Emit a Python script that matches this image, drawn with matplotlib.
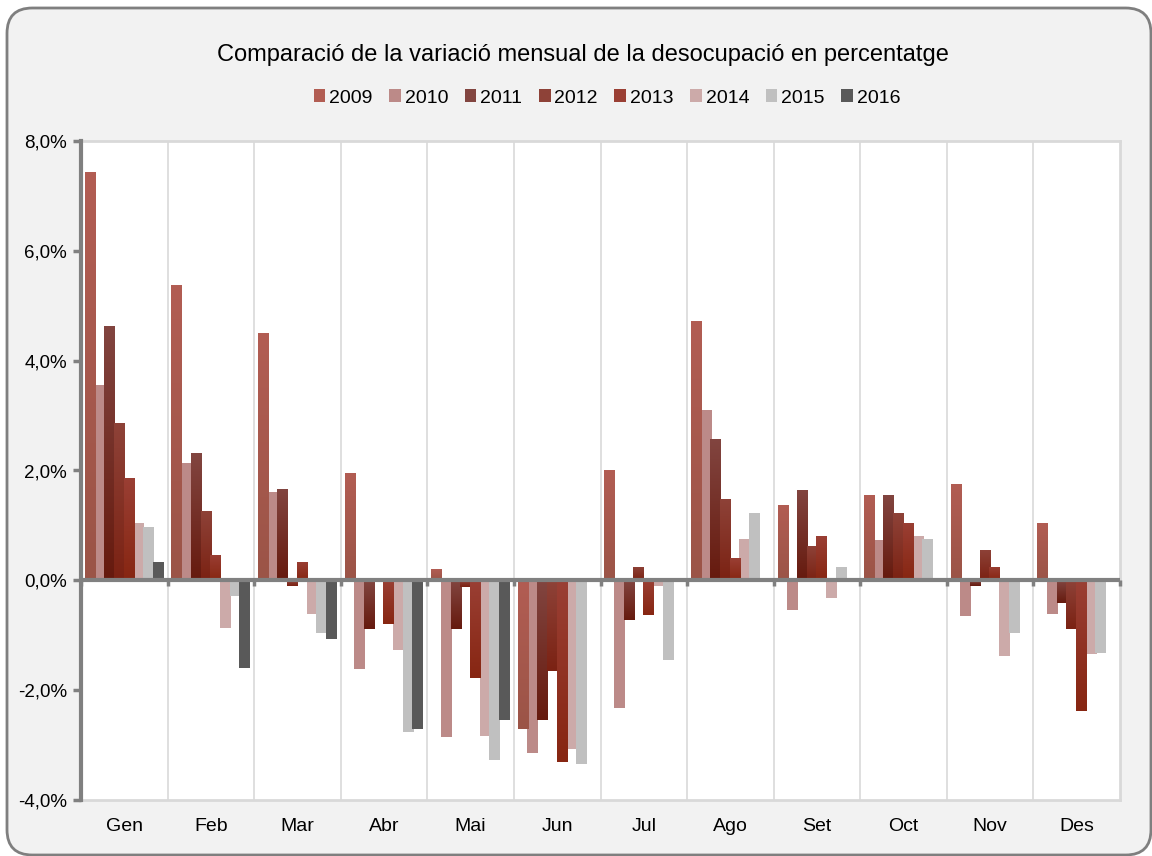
import numpy as np
import matplotlib.pyplot as plt
from matplotlib.colors import to_rgb
from matplotlib.patches import FancyBboxPatch, Patch
from matplotlib.ticker import FuncFormatter

plt.rcParams['font.family'] = ['Liberation Sans', 'DejaVu Sans']

# ------------------------------------------------------------------
# DATA (monthly variation of unemployment, %)
# ------------------------------------------------------------------
months = ["Gen", "Feb", "Mar", "Abr", "Mai", "Jun", "Jul", "Ago", "Set", "Oct", "Nov", "Des"]
years = ["2009", "2010", "2011", "2012", "2013", "2014", "2015", "2016"]

v2009 = [7.44, 5.38, 4.51, 1.95, 0.20, -2.70, 2.00, 4.73, 1.38, 1.56, 1.75, 1.04]
v2010 = [3.55, 2.13, 1.60, -1.61, -2.85, -3.14, -2.32, 3.11, -0.54, 0.73, -0.65, -0.61]
v2011 = [4.64, 2.31, 1.67, -0.88, -0.88, -2.54, -0.72, 2.58, 1.65, 1.55, -0.10, -0.41]
v2012 = [2.87, 1.27, -0.10, 0.05, -0.12, -1.65, 0.24, 1.49, 0.62, 1.22, 0.55, -0.88]
v2013 = [1.87, 0.47, 0.33, -0.79, -1.78, -3.30, -0.63, 0.40, 0.80, 1.05, 0.24, -2.38]
v2014 = [1.04, -0.87, -0.61, -1.27, -2.83, -3.08, -0.10, 0.75, -0.32, 0.80, -1.38, -1.34]
v2015 = [0.98, -0.28, -0.96, -2.76, -3.27, -3.35, -1.45, 1.23, 0.24, 0.76, -0.96, -1.33]
v2016 = [0.33, -1.60, -1.06, -2.70, -2.55]

series = [v2009, v2010, v2011, v2012, v2013, v2014, v2015, v2016]

# (top colour, bottom colour) — Excel-style vertical gradient per bar
colors = [
    ("#B25D53", "#9B5447"),
    ("#BC8A88", "#BC8A88"),
    ("#824540", "#661A0E"),
    ("#8E4238", "#7B2213"),
    ("#9A3F34", "#872612"),
    ("#CCAAA9", "#CCAAA9"),
    ("#C0C0C0", "#C0C0C0"),
    ("#595959", "#595959"),
]

# ------------------------------------------------------------------
# FIGURE
# ------------------------------------------------------------------
fig = plt.figure(figsize=(11.52, 8.56), dpi=100)
fig.patch.set_facecolor("white")

# rounded outer frame (bottom edge sits on the image border)
frame = FancyBboxPatch((7 / 1152, 1 / 856), 1144 / 1152, 847 / 856,
                       boxstyle="round,pad=0,rounding_size=0.022",
                       transform=fig.transFigure, facecolor="#F2F2F2",
                       edgecolor="#7F7F7F", linewidth=2, zorder=-10,
                       mutation_aspect=1152 / 856)
fig.patches.append(frame)

ax = fig.add_axes([81 / 1152, 1 - 800 / 856, (1120 - 81) / 1152, (800 - 141) / 856])
ax.set_facecolor("white")

x = np.arange(len(months))
width = 0.127
step = 0.112

for i, vals in enumerate(series):
    xs = x[:len(vals)] + (i - 3.5) * step
    bars = ax.bar(xs, vals, width=width, color=colors[i][0], linewidth=0, zorder=3)
    top, bot = np.array(to_rgb(colors[i][0])), np.array(to_rgb(colors[i][1]))
    if colors[i][0] == colors[i][1]:
        continue
    grad = np.linspace(0, 1, 64)[:, None, None]
    img = (top * (1 - grad) + bot * grad)
    for b in bars:
        bx, by = b.get_x(), b.get_y()
        bw, bh = b.get_width(), b.get_height()
        y0, y1 = min(by, by + bh), max(by, by + bh)
        im = ax.imshow(img, extent=[bx, bx + bw, y0, y1], origin="upper",
                       aspect="auto", zorder=3.5, interpolation="bilinear")
        im.set_clip_path(b)

ax.set_xlim(-0.5, 11.5)
ax.set_ylim(-4, 8)

# vertical separators between months
for b in np.arange(0.5, 11.5, 1):
    ax.axvline(b, color="#D9D9D9", linewidth=1.2, zorder=1)

# zero line + category ticks
ax.axhline(0, color="#808080", linewidth=3, zorder=5)
for b in np.arange(-0.5, 12, 1):
    ax.plot([b, b], [0, -0.1], color="#808080", linewidth=2.5, zorder=5,
            clip_on=False, solid_capstyle="butt")

ax.set_yticks(np.arange(-4, 9, 2))
ax.yaxis.set_major_formatter(FuncFormatter(lambda v, p: f"{v:.1f}%".replace(".", ",")))
ax.set_xticks(x)
ax.set_xticklabels(months)
ax.tick_params(axis="x", length=0, pad=13, labelsize=14)
ax.tick_params(axis="y", length=6, width=2.5, color="#808080", pad=4, labelsize=13.5)

for side in ["top", "right", "bottom"]:
    ax.spines[side].set_color("#D9D9D9")
    ax.spines[side].set_linewidth(2)
ax.spines["left"].set_color("#808080")
ax.spines["left"].set_linewidth(3)
ax.spines["left"].set_zorder(6)

fig.text(0.506, 1 - 55 / 856, "Comparació de la variació mensual de la desocupació en percentatge",
         ha="center", va="center", fontsize=17)

handles = [Patch(facecolor=c[0], edgecolor="none") for c in colors]
fig.legend(handles, years, loc="center", bbox_to_anchor=(0.527, 1 - 98 / 856), ncol=8,
           frameon=False, fontsize=14, handlelength=0.6, handleheight=0.6,
           handletextpad=0.2, columnspacing=0.85)

fig.savefig("out.png", dpi=100)
